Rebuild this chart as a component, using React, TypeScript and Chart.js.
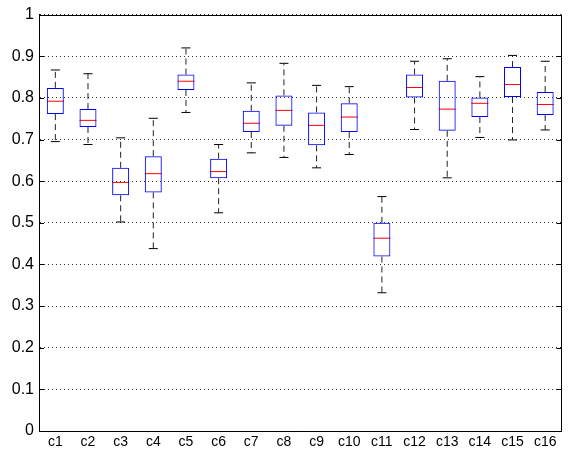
import React, { useEffect, useRef } from "react";
import { Chart, registerables } from "chart.js";

Chart.register(...registerables);

const categories = ["c1", "c2", "c3", "c4", "c5", "c6", "c7", "c8", "c9", "c10", "c11", "c12", "c13", "c14", "c15", "c16"];
const lowerWhisker = [0.695, 0.688, 0.502, 0.438, 0.765, 0.524, 0.668, 0.657, 0.632, 0.664, 0.332, 0.724, 0.608, 0.705, 0.699, 0.723];
const q1 = [0.761, 0.730, 0.566, 0.573, 0.819, 0.607, 0.718, 0.733, 0.686, 0.718, 0.419, 0.801, 0.721, 0.754, 0.802, 0.759];
const medians = [0.792, 0.746, 0.597, 0.618, 0.840, 0.623, 0.739, 0.770, 0.734, 0.754, 0.463, 0.825, 0.773, 0.787, 0.832, 0.784];
const q3 = [0.824, 0.773, 0.632, 0.660, 0.856, 0.654, 0.769, 0.806, 0.765, 0.787, 0.500, 0.856, 0.841, 0.801, 0.874, 0.814];
const upperWhisker = [0.867, 0.858, 0.704, 0.751, 0.920, 0.688, 0.836, 0.883, 0.830, 0.827, 0.563, 0.888, 0.894, 0.851, 0.902, 0.888];
const yMin = 0;
const yMax = 1;
const yStep = 0.1;

const FONT = "'Liberation Sans', Arial, Helvetica, sans-serif";

const framePlugin = {
  id: "frame",
  afterDraw(chart: any) {
    const { ctx, chartArea, scales } = chart;
    const { left, right, top, bottom } = chartArea;
    ctx.save();
    ctx.strokeStyle = "#000";
    ctx.lineWidth = 1;
    ctx.setLineDash([]);
    ctx.beginPath();
    ctx.moveTo(left, Math.round(top) + 0.5);
    ctx.lineTo(right, Math.round(top) + 0.5);
    ctx.moveTo(Math.round(right) - 0.5, top);
    ctx.lineTo(Math.round(right) - 0.5, bottom);
    const y = scales.y;
    y.ticks.forEach((t: any) => {
      const py = Math.round(y.getPixelForValue(t.value)) + 0.5;
      ctx.moveTo(left, py);
      ctx.lineTo(left + 5, py);
      ctx.moveTo(right - 5, py);
      ctx.lineTo(right, py);
    });
    ctx.stroke();
    ctx.restore();
  },
};

function segments(from: number[], to: number[]) {
  const out: any[] = [];
  categories.forEach((c, i) => {
    out.push({ x: c, y: from[i] });
    out.push({ x: c, y: to[i] });
    out.push({ x: c, y: null });
  });
  return out;
}

export default function App() {
  const ref = useRef<HTMLCanvasElement>(null);
  useEffect(() => {
    if (!ref.current) return;
    const chart = new Chart(ref.current, {
      type: "bar",
      data: {
        labels: categories,
        datasets: [
          {
            type: "line",
            data: segments(q3, upperWhisker) as any,
            borderColor: "#222",
            borderWidth: 1,
            borderDash: [6, 4],
            pointRadius: 0,
            spanGaps: false,
            fill: false,
          } as any,
          {
            type: "line",
            data: segments(q1, lowerWhisker) as any,
            borderColor: "#222",
            borderWidth: 1,
            borderDash: [6, 4],
            pointRadius: 0,
            spanGaps: false,
            fill: false,
          } as any,
          {
            type: "bar",
            data: categories.map((_, i) => [q1[i], q3[i]]) as any,
            backgroundColor: "rgba(0,0,0,0)",
            borderColor: "#0000ff",
            borderWidth: 1,
            borderSkipped: false,
            barPercentage: 0.52,
            categoryPercentage: 1,
          } as any,
          {
            type: "line",
            data: medians,
            showLine: false,
            pointStyle: "line",
            pointRadius: 8.5,
            pointBorderColor: "#ff0000",
            pointBorderWidth: 1,
          } as any,
          {
            type: "line",
            data: upperWhisker,
            showLine: false,
            pointStyle: "line",
            pointRadius: 4.5,
            pointBorderColor: "#000",
            pointBorderWidth: 1,
          } as any,
          {
            type: "line",
            data: lowerWhisker,
            showLine: false,
            pointStyle: "line",
            pointRadius: 4.5,
            pointBorderColor: "#000",
            pointBorderWidth: 1,
          } as any,
        ],
      },
      options: {
        responsive: false,
        animation: false,
        events: [],
        layout: { padding: { top: 9, right: 1, left: 0, bottom: 0 } },
        plugins: { legend: { display: false }, tooltip: { enabled: false } },
        scales: {
          x: {
            type: "category",
            grid: { display: false, drawTicks: false },
            border: { display: true, color: "#000", width: 1 },
            ticks: { color: "#000", font: { family: FONT, size: 14 }, padding: 3, maxRotation: 0, autoSkip: false },
            afterFit: (s: any) => { s.height = 20; },
          },
          y: {
            type: "linear",
            min: yMin,
            max: yMax,
            grid: { color: "rgba(0,0,0,0.8)", drawTicks: false } as any,
            border: { display: true, color: "#000", width: 1, dash: [1, 3] } as any,
            ticks: {
              stepSize: yStep,
              color: "#000",
              padding: 5,
              font: { family: FONT, size: 16 },
              callback: (v: any) => String(Number(Number(v).toFixed(1))),
            },
            afterFit: (s: any) => { s.width = 39; },
          },
        },
      },
      plugins: [framePlugin],
    });
    return () => chart.destroy();
  }, []);
  return (
    <div style={{ position: "fixed", left: 0, top: 0, width: 571, height: 451, background: "#fff" }}>
      <canvas ref={ref} width={571} height={451} />
    </div>
  );
}
